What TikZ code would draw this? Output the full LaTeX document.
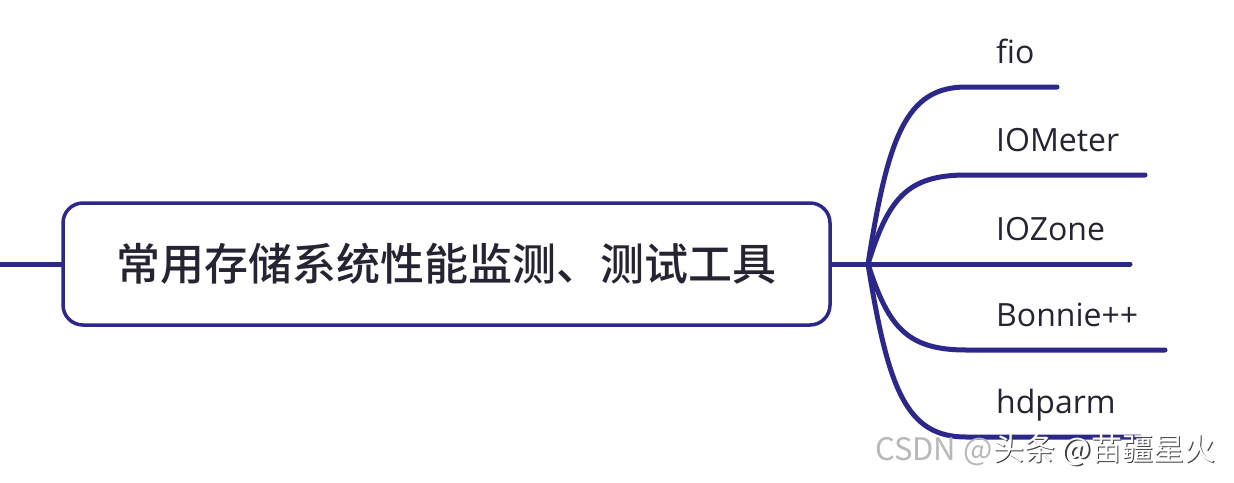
\documentclass[tikz,border=0pt]{standalone}
\usepackage{fontspec}
\setmainfont{Open Sans}
\newfontfamily\cjk{Noto Sans CJK SC}
\newfontfamily\cjkmid{Noto Sans CJK SC Medium}
\usetikzlibrary{positioning}
\definecolor{branchblue}{RGB}{44,40,138}
\definecolor{labelgray}{RGB}{38,36,50}

\begin{document}
\begin{tikzpicture}[x=1pt,y=-1pt,
    %
    root/.style={rectangle, draw=branchblue, line width=3.5pt, rounded corners=20pt,
    fill=white, minimum width=767pt, minimum height=122pt, inner sep=0pt,
    font=\cjkmid\fontsize{44}{48}\selectfont, text=labelgray},
    branch/.style={draw=branchblue, line width=5pt, line cap=round},
    leaf/.style={anchor=base west, inner sep=0pt, font=\fontsize{32}{36}\selectfont, text=labelgray},
    wmark/.style={anchor=base west, inner sep=0pt, font=\cjk\fontsize{31}{33}\selectfont}]
    \useasboundingbox[fill=white] (0,0) rectangle (1234,482);
    \node (root) [root] at (446.5,264) {常用存储系统性能监测、测试工具};
    \coordinate (tail) at (-5,264);
    \coordinate (hub) at (868,264);
    \draw[branch] (tail) -- (root.west);
    \draw[branch] (root.east) -- (hub);
    % branches to the tools
    \foreach \name/\tool/\y/\xend in {fio/fio/87/1057, iometer/IOMeter/175/1145,
        iozone/IOZone/264/1130, bonnie/Bonnie++/350/1165, hdparm/hdparm/437/1140}
    {
        \coordinate (\name-bend) at (966,\y);
        \coordinate (\name-end) at (\xend,\y);
        \draw[branch] (hub) .. controls (888,{264+0.72*(\y-264)}) and (906,\y) .. (\name-bend) -- (\name-end);
        \node (\name) [leaf] at (996,\y-24) {\tool};
    }
    % watermark
    \node (csdn) [wmark, text=black!28] at (875,460) {CSDN @};
    \node (author-shadow) [wmark, text=black!75] at ([shift={(1.5pt,-1.5pt)}]csdn.base east) {头条 @苗疆星火};
    \node (author) [wmark, text=white] at (csdn.base east) {头条 @苗疆星火};
\end{tikzpicture}
\end{document}
